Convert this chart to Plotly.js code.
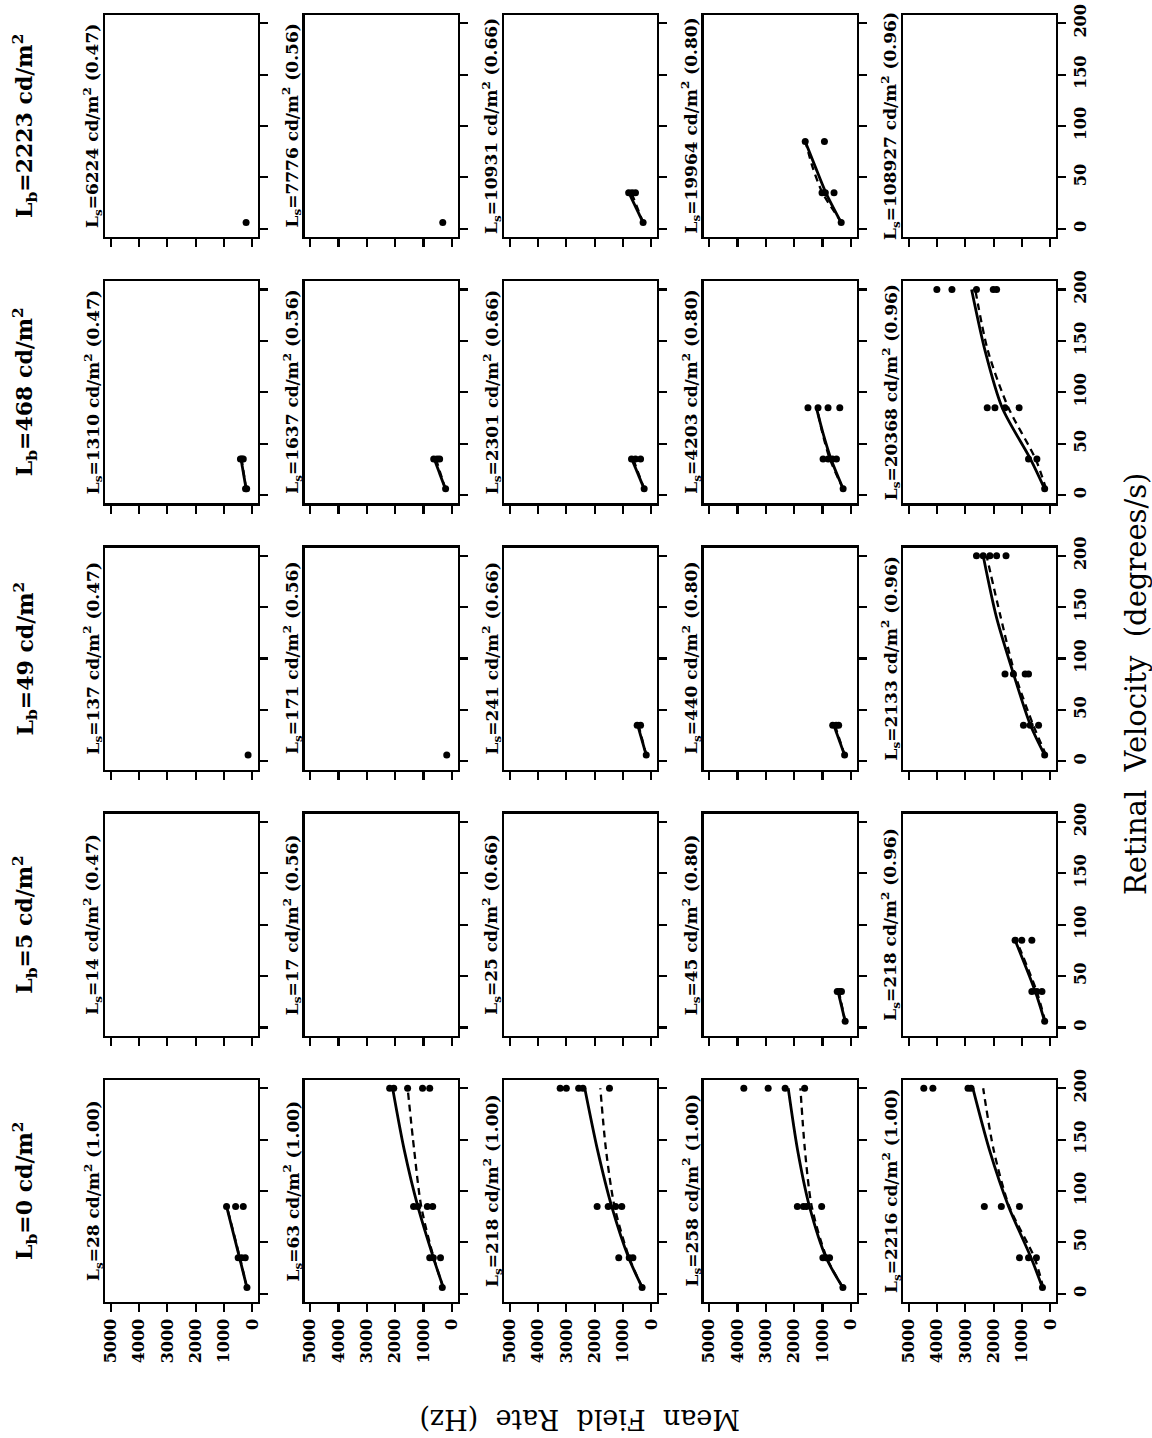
<!DOCTYPE html>
<html>
<head>
<meta charset="utf-8">
<script src="https://cdn.plot.ly/plotly-3.0.1.min.js"></script>
<style>html,body{margin:0;padding:0;background:#fff;}#chart{width:1152px;height:1438px;}</style>
</head>
<body>
<div id="chart"></div>
<script>
// ---------- DATA ----------
// Background luminance per row (top to bottom)
const lbValues = ['2223', '468', '49', '5', '0'];
// Stimulus luminance per panel, by row
const lsRow2223 = [6224, 7776, 10931, 19964, 108927];
const lsRow468  = [1310, 1637, 2301, 4203, 20368];
const lsRow49   = [137, 171, 241, 440, 2133];
const lsRow5    = [14, 17, 25, 45, 218];
const lsRow0    = [28, 63, 218, 258, 2216];
// Contrast labels per column (rows with Lb > 0) and for Lb = 0 row
const contrastCols = ['0.47', '0.56', '0.66', '0.80', '0.96'];
const contrastRow0 = '1.00';
// Axis ticks
const rateTicks = [0, 1000, 2000, 3000, 4000, 5000];
const velTicks = [0, 50, 100, 150, 200];

// Observed points: [velocity (deg/s), mean field rate (Hz)]
const dots_2223_6224  = [[6, 220]];
const dots_2223_7776  = [[6, 320]];
const dots_2223_10931 = [[6, 290], [35, 800], [35, 680], [35, 560]];
const dots_2223_19964 = [[6, 340], [35, 1017], [35, 900], [35, 593], [85, 1610], [85, 932]];
const dots_468_1310   = [[6, 200], [6, 240], [35, 420], [35, 370], [35, 320]];
const dots_468_1637   = [[6, 220], [35, 640], [35, 520], [35, 430]];
const dots_468_2301   = [[6, 253], [35, 700], [35, 560], [35, 380]];
const dots_468_4203   = [[6, 272], [35, 980], [35, 800], [35, 650], [35, 508], [85, 1513], [85, 1158], [85, 804], [85, 390]];
const dots_468_20368  = [[6, 200], [35, 770], [35, 474], [85, 2227], [85, 1955], [85, 1600], [85, 1102], [200, 4005], [200, 3472], [200, 2607], [200, 2014], [200, 1896]];
const dots_49_137     = [[6, 150]];
const dots_49_171     = [[6, 180]];
const dots_49_241     = [[6, 180], [35, 500], [35, 380]];
const dots_49_440     = [[6, 220], [35, 640], [35, 520], [35, 430]];
const dots_49_2133    = [[6, 200], [35, 948], [35, 711], [35, 415], [85, 1600], [85, 1303], [85, 888], [85, 770], [200, 2607], [200, 2370], [200, 2133], [200, 1896], [200, 1564]];
const dots_5_45       = [[6, 200], [35, 480], [35, 400], [35, 330]];
const dots_5_218      = [[6, 200], [35, 652], [35, 474], [35, 296], [85, 1244], [85, 1007], [85, 652]];
const dots_0_28       = [[6, 190], [35, 500], [35, 380], [35, 250], [85, 910], [85, 590], [85, 320]];
const dots_0_63       = [[6, 337], [35, 780], [35, 654], [35, 400], [85, 1350], [85, 1200], [85, 865], [85, 675], [200, 2194], [200, 2050], [200, 1561], [200, 1034], [200, 780]];
const dots_0_218      = [[6, 326], [35, 1150], [35, 780], [35, 650], [85, 1913], [85, 1522], [85, 1260], [85, 1043], [200, 3217], [200, 3000], [200, 2565], [200, 2413], [200, 1478]];
const dots_0_258      = [[6, 280], [35, 987], [35, 880], [35, 750], [85, 1888], [85, 1674], [85, 1566], [85, 1030], [200, 3777], [200, 2918], [200, 2318], [200, 1631]];
const dots_0_2216     = [[6, 278], [35, 1090], [35, 769], [35, 491], [85, 2330], [85, 1730], [85, 1090], [200, 4466], [200, 4145], [200, 2906], [200, 2800]];

// Model fits (solid): [velocity, rate]
const solid_2223_10931 = [[6, 290], [35, 790]];
const solid_2223_19964 = [[6, 340], [35, 880], [60, 1250], [85, 1610]];
const solid_468_1310   = [[6, 220], [35, 400]];
const solid_468_1637   = [[6, 230], [35, 620]];
const solid_468_2301   = [[6, 253], [35, 690]];
const solid_468_4203   = [[6, 272], [35, 700], [60, 980], [85, 1217]];
const solid_468_20368  = [[6, 200], [35, 700], [85, 1700], [140, 2300], [200, 2780]];
const solid_49_241     = [[6, 180], [35, 480]];
const solid_49_440     = [[6, 220], [35, 600]];
const solid_49_2133    = [[6, 200], [35, 700], [85, 1300], [140, 1900], [200, 2370]];
const solid_5_45       = [[6, 200], [35, 450]];
const solid_5_218      = [[6, 200], [35, 530], [85, 1244]];
const solid_0_28       = [[6, 190], [35, 450], [85, 910]];
const solid_0_63       = [[6, 300], [35, 650], [85, 1200], [140, 1680], [200, 2090]];
const solid_0_218      = [[6, 320], [35, 800], [85, 1400], [140, 1900], [200, 2350]];
const solid_0_258      = [[6, 280], [35, 870], [85, 1460], [140, 1880], [200, 2210]];
const solid_0_2216     = [[6, 278], [35, 680], [85, 1474], [140, 2150], [200, 2735]];

// Alternative fits (dashed)
const dash_2223_10931 = [[6, 290], [35, 700]];
const dash_2223_19964 = [[6, 320], [35, 1000], [60, 1350], [85, 1600]];
const dash_468_1310   = [[6, 220], [35, 380]];
const dash_468_1637   = [[6, 230], [35, 560]];
const dash_468_2301   = [[6, 253], [35, 640]];
const dash_468_4203   = [[6, 272], [35, 740], [60, 1000], [85, 1200]];
const dash_468_20368  = [[6, 150], [35, 520], [85, 1480], [140, 2200], [200, 2650]];
const dash_49_241     = [[6, 180], [35, 450]];
const dash_49_440     = [[6, 220], [35, 560]];
const dash_49_2133    = [[6, 150], [35, 600], [85, 1250], [140, 1750], [200, 2250]];
const dash_5_45       = [[6, 200], [35, 420]];
const dash_5_218      = [[6, 180], [35, 480], [85, 1200]];
const dash_0_28       = [[6, 190], [35, 440], [85, 900]];
const dash_0_63       = [[6, 300], [35, 640], [85, 1080], [140, 1330], [200, 1560]];
const dash_0_218      = [[6, 320], [35, 780], [85, 1300], [140, 1600], [200, 1800]];
const dash_0_258      = [[6, 280], [35, 850], [85, 1380], [140, 1620], [200, 1780]];
const dash_0_2216     = [[6, 250], [35, 560], [85, 1450], [140, 2000], [200, 2370]];

// ---------- BUILD ----------
const lsRows = [lsRow2223, lsRow468, lsRow49, lsRow5, lsRow0];
const dotsTable = {
  '2223_6224': dots_2223_6224, '2223_7776': dots_2223_7776, '2223_10931': dots_2223_10931, '2223_19964': dots_2223_19964,
  '468_1310': dots_468_1310, '468_1637': dots_468_1637, '468_2301': dots_468_2301, '468_4203': dots_468_4203, '468_20368': dots_468_20368,
  '49_137': dots_49_137, '49_171': dots_49_171, '49_241': dots_49_241, '49_440': dots_49_440, '49_2133': dots_49_2133,
  '5_45': dots_5_45, '5_218': dots_5_218,
  '0_28': dots_0_28, '0_63': dots_0_63, '0_218': dots_0_218, '0_258': dots_0_258, '0_2216': dots_0_2216
};
const solidTable = {
  '2223_10931': solid_2223_10931, '2223_19964': solid_2223_19964,
  '468_1310': solid_468_1310, '468_1637': solid_468_1637, '468_2301': solid_468_2301, '468_4203': solid_468_4203, '468_20368': solid_468_20368,
  '49_241': solid_49_241, '49_440': solid_49_440, '49_2133': solid_49_2133,
  '5_45': solid_5_45, '5_218': solid_5_218,
  '0_28': solid_0_28, '0_63': solid_0_63, '0_218': solid_0_218, '0_258': solid_0_258, '0_2216': solid_0_2216
};
const dashTable = {
  '2223_10931': dash_2223_10931, '2223_19964': dash_2223_19964,
  '468_1310': dash_468_1310, '468_1637': dash_468_1637, '468_2301': dash_468_2301, '468_4203': dash_468_4203, '468_20368': dash_468_20368,
  '49_241': dash_49_241, '49_440': dash_49_440, '49_2133': dash_49_2133,
  '5_45': dash_5_45, '5_218': dash_5_218,
  '0_28': dash_0_28, '0_63': dash_0_63, '0_218': dash_0_218, '0_258': dash_0_258, '0_2216': dash_0_2216
};

const W = 1152, H = 1438;
const colLeft = [105, 304.5, 504, 703.5, 903];
const panelW = 153;
const rowTop = [15, 281.25, 547.5, 813.75, 1080];
const panelH = 222;
const SERIF = 'DejaVu Serif, Liberation Serif, serif';

const traces = [];
const layout = {
  width: W, height: H,
  margin: {l: 0, r: 0, t: 0, b: 0},
  paper_bgcolor: '#fff', plot_bgcolor: '#fff',
  showlegend: false,
  font: {family: SERIF, color: '#000'},
  annotations: []
};

for (let i = 0; i < 5; i++) {
  for (let j = 0; j < 5; j++) {
    const n = i * 5 + j + 1;
    const xs = n === 1 ? '' : String(n);
    const xid = 'x' + xs, yid = 'y' + xs;
    const L = colLeft[j], T = rowTop[i];
    layout['xaxis' + xs] = {
      domain: [L / W, (L + panelW) / W],
      anchor: yid,
      range: [5200, -200],
      tickvals: rateTicks,
      ticktext: rateTicks.map(String),
      ticks: 'outside', ticklen: 8, tickwidth: 2.2, tickcolor: '#000',
      showticklabels: i === 4,
      tickangle: -90,
      tickfont: {family: SERIF, size: 16, weight: 'bold', color: '#000'},
      showline: true, mirror: true, linewidth: 2.4, linecolor: '#000',
      showgrid: false, zeroline: false, fixedrange: true
    };
    layout['yaxis' + xs] = {
      domain: [1 - (T + panelH) / H, 1 - T / H],
      anchor: xid,
      side: 'right',
      range: [-8, 208],
      tickvals: velTicks,
      ticktext: velTicks.map(String),
      ticks: 'outside', ticklen: 8, tickwidth: 2.2, tickcolor: '#000',
      showticklabels: j === 4,
      tickangle: -90,
      tickfont: {family: SERIF, size: 16, weight: 'bold', color: '#000'},
      showline: true, mirror: true, linewidth: 2.4, linecolor: '#000',
      showgrid: false, zeroline: false, fixedrange: true
    };
    // an empty trace so that every panel (even one without data) gets its axes
    traces.push({type: 'scatter', mode: 'markers', xaxis: xid, yaxis: yid,
      x: [null], y: [null], hoverinfo: 'skip', marker: {opacity: 0}});
    const lb = lbValues[i];
    const ls = lsRows[i][j];
    const key = lb + '_' + ls;
    const contrast = i === 4 ? contrastRow0 : contrastCols[j];
    // panel label
    layout.annotations.push({
      xref: 'paper', yref: 'paper',
      x: (L - 12) / W, y: 1 - (T + panelH / 2) / H,
      xanchor: 'center', yanchor: 'middle',
      textangle: -90, showarrow: false,
      text: 'L<sub>s</sub>=' + ls + ' cd/m<sup>2</sup> (' + contrast + ')',
      font: {family: SERIF, size: 17, weight: 'bold', color: '#000'}
    });
    const sol = solidTable[key];
    if (sol) traces.push({
      type: 'scatter', mode: 'lines', xaxis: xid, yaxis: yid,
      x: sol.map(p => p[1]), y: sol.map(p => p[0]),
      line: {color: '#000', width: 2.8, shape: 'spline', smoothing: 0.8},
      hoverinfo: 'skip'
    });
    const das = dashTable[key];
    if (das) traces.push({
      type: 'scatter', mode: 'lines', xaxis: xid, yaxis: yid,
      x: das.map(p => p[1]), y: das.map(p => p[0]),
      line: {color: '#000', width: 2.3, dash: '7px,5px', shape: 'spline', smoothing: 0.8},
      hoverinfo: 'skip'
    });
    const dt = dotsTable[key];
    if (dt) traces.push({
      type: 'scatter', mode: 'markers', xaxis: xid, yaxis: yid,
      x: dt.map(p => p[1]), y: dt.map(p => p[0]),
      marker: {color: '#000', size: 7, symbol: 'circle'},
      hoverinfo: 'skip', cliponaxis: false
    });
  }
  // row label
  layout.annotations.push({
    xref: 'paper', yref: 'paper',
    x: 25 / W, y: 1 - (rowTop[i] + panelH / 2) / H,
    xanchor: 'center', yanchor: 'middle',
    textangle: -90, showarrow: false,
    text: 'L<sub>b</sub>=' + lbValues[i] + ' cd/m<sup>2</sup>',
    font: {family: SERIF, size: 22, weight: 'bold', color: '#000'}
  });
}

layout.annotations.push({
  xref: 'paper', yref: 'paper',
  x: 580 / W, y: 1 - 1420 / H,
  xanchor: 'center', yanchor: 'middle',
  textangle: 180, showarrow: false,
  text: 'Mean  Field  Rate  (Hz)',
  font: {family: SERIF, size: 27, color: '#000'}
});
layout.annotations.push({
  xref: 'paper', yref: 'paper',
  x: 1136 / W, y: 1 - 684 / H,
  xanchor: 'center', yanchor: 'middle',
  textangle: -90, showarrow: false,
  text: 'Retinal  Velocity  (degrees/s)',
  font: {family: SERIF, size: 29, color: '#000'}
});

Plotly.newPlot('chart', traces, layout, {staticPlot: true, displayModeBar: false});
</script>
</body>
</html>
